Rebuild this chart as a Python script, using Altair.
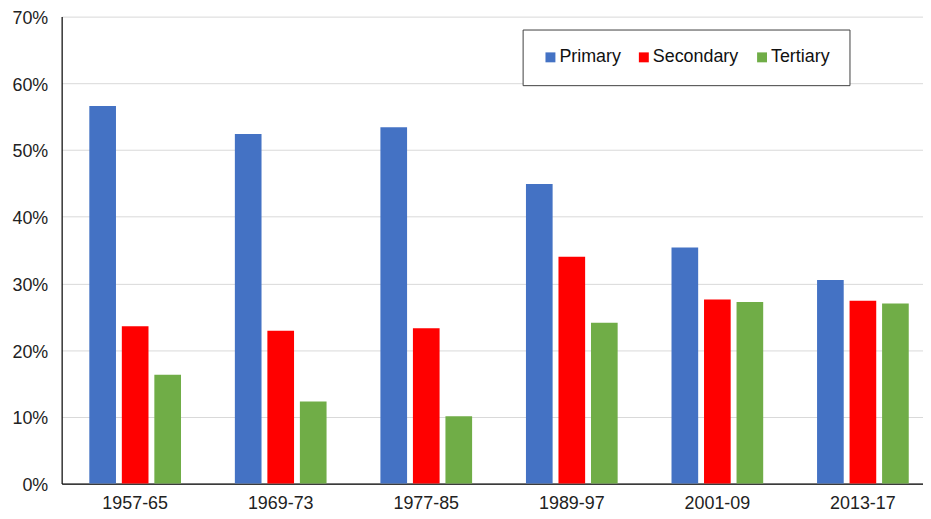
import altair as alt
import pandas as pd

periods = ["1957-65", "1969-73", "1977-85", "1989-97", "2001-09", "2013-17"]
levels = ["Primary", "Secondary", "Tertiary"]
primary = [56.6, 52.4, 53.4, 44.9, 35.4, 30.5]
secondary = [23.6, 22.9, 23.3, 34.0, 27.6, 27.4]
tertiary = [16.3, 12.3, 10.1, 24.1, 27.2, 27.0]
colors = ["#4472C4", "#FF0000", "#70AD47"]

rows = []
for i, p in enumerate(periods):
    for lev, vals in zip(levels, [primary, secondary, tertiary]):
        rows.append({"period": p, "level": lev, "value": vals[i] / 100})
df = pd.DataFrame(rows)

chart = alt.Chart(df).mark_bar().encode(
    x=alt.X("period:N", sort=periods, title=None,
            scale=alt.Scale(paddingInner=0.37, paddingOuter=0.144, align=0.66),
            axis=alt.Axis(labelAngle=0, labelFontSize=18, labelFont="Liberation Sans",
                          labelColor="#222", labelPadding=11, ticks=False,
                          domainColor="#000", domainWidth=1.2)),
    xOffset=alt.XOffset("level:N", sort=levels,
                        scale=alt.Scale(paddingInner=0.18, paddingOuter=0)),
    y=alt.Y("value:Q", title=None,
            scale=alt.Scale(domain=[0, 0.7], nice=False),
            axis=alt.Axis(format=".0%", values=[0, 0.1, 0.2, 0.3, 0.4, 0.5, 0.6, 0.7],
                          labelOverlap=False, labelFontSize=18, labelFont="Liberation Sans",
                          labelColor="#222", ticks=False, labelPadding=14, labelOffset=2,
                          gridColor="#d9d9d9", domainColor="#000", domainWidth=1.2)),
    color=alt.Color("level:N", sort=levels,
                    scale=alt.Scale(domain=levels, range=colors),
                    legend=alt.Legend(title=None, orient="none", legendX=464, legendY=13,
                                      direction="horizontal", columns=3,
                                      symbolType="square", symbolSize=100,
                                      symbolStrokeWidth=0, labelFontSize=18,
                                      labelFont="Liberation Sans", labelColor="#111",
                                      labelOffset=0, columnPadding=14, padding=19,
                                      strokeColor="#404040", fillColor="white")),
).properties(
    width=867, height=470,
    autosize=alt.AutoSizeParams(type="none"),
    padding={"left": 54, "top": 7, "right": 0, "bottom": 34},
).configure_view(stroke=None)

chart.save("out.html", embed_options={"renderer": "svg", "actions": False})
